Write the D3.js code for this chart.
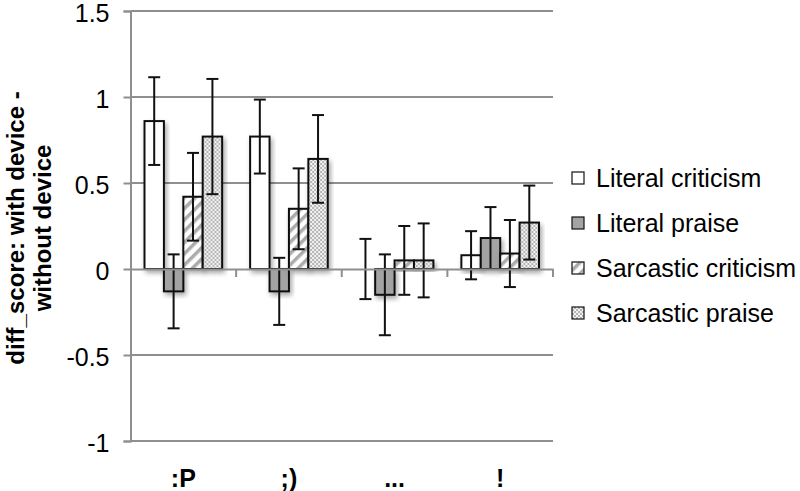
<!DOCTYPE html>
<html>
<head>
<meta charset="utf-8">
<script src="https://cdn.jsdelivr.net/npm/d3@7"></script>
<style>
  body { margin: 0; background: #fff; }
  text { font-family: "Liberation Sans", Arial, sans-serif; fill: #000; }
</style>
</head>
<body>
<div id="chart"></div>
<script>
var categories = [":P", ";)", "...", "!"];
var seriesNames = ["Literal criticism", "Literal praise", "Sarcastic criticism", "Sarcastic praise"];

var literalCriticism = [0.86, 0.77, 0.00, 0.08];
var literalPraise = [-0.13, -0.13, -0.15, 0.18];
var sarcasticCriticism = [0.42, 0.35, 0.05, 0.09];
var sarcasticPraise = [0.77, 0.64, 0.05, 0.27];

var literalCriticismErr = [0.255, 0.215, 0.175, 0.14];
var literalPraiseErr = [0.215, 0.195, 0.235, 0.18];
var sarcasticCriticismErr = [0.255, 0.235, 0.2, 0.195];
var sarcasticPraiseErr = [0.335, 0.255, 0.215, 0.215];

var yTicks = [-1, -0.5, 0, 0.5, 1, 1.5];

var values = [literalCriticism, literalPraise, sarcasticCriticism, sarcasticPraise];
var errors = [literalCriticismErr, literalPraiseErr, sarcasticCriticismErr, sarcasticPraiseErr];
var fills = ["#fff", "#a3a3a3", "url(#stripes)", "url(#checker)"];

var svgWidth = 800;
var svgHeight = 491;
var margin = { top: 11, right: 247, bottom: 50, left: 130.5 };
var width = svgWidth - margin.left - margin.right;
var height = svgHeight - margin.top - margin.bottom;

var svg = d3.select("#chart")
  .append("svg")
  .attr("width", svgWidth)
  .attr("height", svgHeight);

var defs = svg.append("defs");

var stripes = defs.append("pattern")
  .attr("id", "stripes")
  .attr("patternUnits", "userSpaceOnUse")
  .attr("width", 8)
  .attr("height", 8)
  .attr("patternTransform", "rotate(45)");
stripes.append("rect").attr("width", 8).attr("height", 8).attr("fill", "#fff");
stripes.append("rect").attr("width", 3.5).attr("height", 8).attr("fill", "#acacac");

var checker = defs.append("pattern")
  .attr("id", "checker")
  .attr("patternUnits", "userSpaceOnUse")
  .attr("width", 4)
  .attr("height", 4);
checker.append("rect").attr("width", 4).attr("height", 4).attr("fill", "#f2f2f2");
checker.append("rect").attr("width", 2).attr("height", 2).attr("fill", "#b5b5b5");
checker.append("rect").attr("x", 2).attr("y", 2).attr("width", 2).attr("height", 2).attr("fill", "#b5b5b5");

var shadow = defs.append("filter")
  .attr("id", "shadow")
  .attr("x", "-30%").attr("y", "-30%")
  .attr("width", "160%").attr("height", "160%");
shadow.append("feDropShadow")
  .attr("dx", 2).attr("dy", 3)
  .attr("stdDeviation", 2.5)
  .attr("flood-color", "#000")
  .attr("flood-opacity", 0.35);

var chartGroup = svg.append("g")
  .attr("transform", `translate(${margin.left}, ${margin.top})`);

var yScale = d3.scaleLinear()
  .domain([-1, 1.5])
  .range([height, 0]);

var x0 = d3.scaleBand()
  .domain(categories)
  .range([0, width]);

var x1 = d3.scaleBand()
  .domain(d3.range(seriesNames.length))
  .range([14, x0.bandwidth() - 14]);

// gridlines + left axis
var leftAxis = d3.axisLeft(yScale)
  .tickValues(yTicks)
  .tickSize(7)
  .tickPadding(14)
  .tickFormat(d => String(d));

var yAxisG = chartGroup.append("g").call(leftAxis);
yAxisG.select(".domain").attr("stroke", "#8f8f8f").attr("stroke-width", 2);
yAxisG.selectAll(".tick line").attr("stroke", "#8f8f8f").attr("stroke-width", 2);
yAxisG.selectAll(".tick text")
  .attr("font-size", 25)
  .attr("font-family", "Liberation Sans, Arial, sans-serif")
  .attr("fill", "#000")
  .attr("dy", "0.42em");

chartGroup.append("g")
  .selectAll("line")
  .data(yTicks.filter(d => d !== 0))
  .enter()
  .append("line")
  .attr("x1", 0)
  .attr("x2", width)
  .attr("y1", d => yScale(d))
  .attr("y2", d => yScale(d))
  .attr("stroke", "#8f8f8f")
  .attr("stroke-width", 2);

// bars
var groups = chartGroup.selectAll(".cat")
  .data(categories)
  .enter()
  .append("g")
  .attr("transform", d => `translate(${x0(d)}, 0)`);

groups.each(function(cat, ci) {
  var g = d3.select(this);
  var barData = seriesNames.map((s, si) => ({ si: si, v: values[si][ci], e: errors[si][ci] }));

  g.selectAll("rect")
    .data(barData)
    .enter()
    .append("rect")
    .attr("x", d => x1(d.si))
    .attr("width", x1.bandwidth())
    .attr("y", d => yScale(Math.max(0, d.v)))
    .attr("height", d => Math.abs(yScale(d.v) - yScale(0)))
    .attr("fill", d => fills[d.si])
    .attr("stroke", "#111")
    .attr("stroke-width", 2)
    .attr("filter", "url(#shadow)");
});

// x axis at zero
var bottomAxis = d3.axisBottom(x0).tickSize(0).tickFormat("");
var xAxisG = chartGroup.append("g")
  .attr("transform", `translate(0, ${yScale(0)})`)
  .call(bottomAxis);
xAxisG.select(".domain").attr("stroke", "#8f8f8f").attr("stroke-width", 2);

xAxisG.selectAll(".sep")
  .data(categories.slice(1).concat(["end"]))
  .enter()
  .append("line")
  .attr("x1", (d, i) => x0.bandwidth() * (i + 1))
  .attr("x2", (d, i) => x0.bandwidth() * (i + 1))
  .attr("y1", 0)
  .attr("y2", 8)
  .attr("stroke", "#8f8f8f")
  .attr("stroke-width", 2);

// error bars
groups.each(function(cat, ci) {
  var g = d3.select(this);
  var barData = seriesNames.map((s, si) => ({ si: si, v: values[si][ci], e: errors[si][ci] }));
  var eg = g.selectAll(".err")
    .data(barData)
    .enter()
    .append("g")
    .attr("stroke", "#111")
    .attr("stroke-width", 2);
  var cx = d => x1(d.si) + x1.bandwidth() / 2;
  eg.append("line")
    .attr("x1", cx).attr("x2", cx)
    .attr("y1", d => yScale(d.v + d.e))
    .attr("y2", d => yScale(d.v - d.e));
  eg.append("line")
    .attr("x1", d => cx(d) - 6).attr("x2", d => cx(d) + 6)
    .attr("y1", d => yScale(d.v + d.e))
    .attr("y2", d => yScale(d.v + d.e));
  eg.append("line")
    .attr("x1", d => cx(d) - 6).attr("x2", d => cx(d) + 6)
    .attr("y1", d => yScale(d.v - d.e))
    .attr("y2", d => yScale(d.v - d.e));
});

// category labels
chartGroup.selectAll(".catlabel")
  .data(categories)
  .enter()
  .append("text")
  .attr("x", d => x0(d) + x0.bandwidth() / 2)
  .attr("y", height + 46)
  .attr("text-anchor", "middle")
  .attr("font-size", 25)
  .attr("font-weight", "bold")
  .text(d => d);

// y axis title
var yTitle = svg.append("text")
  .attr("transform", `translate(24, 228) rotate(-90)`)
  .attr("text-anchor", "middle")
  .attr("font-size", 24)
  .attr("font-weight", "bold");
yTitle.append("tspan").attr("x", 0).attr("y", 0).text("diff_score: with device -");
yTitle.append("tspan").attr("x", 0).attr("y", 27).text("without device");

// legend
var legend = svg.append("g")
  .attr("transform", "translate(572, 178)");

var items = legend.selectAll("g")
  .data(seriesNames)
  .enter()
  .append("g")
  .attr("transform", (d, i) => `translate(0, ${i * 45})`);

items.append("rect")
  .attr("x", 0)
  .attr("y", -6)
  .attr("width", 12)
  .attr("height", 12)
  .attr("fill", (d, i) => fills[i])
  .attr("stroke", "#111")
  .attr("stroke-width", 1.2);

items.append("text")
  .attr("x", 24)
  .attr("y", 9)
  .attr("font-size", 25)
  .text(d => d);
</script>
</body>
</html>
